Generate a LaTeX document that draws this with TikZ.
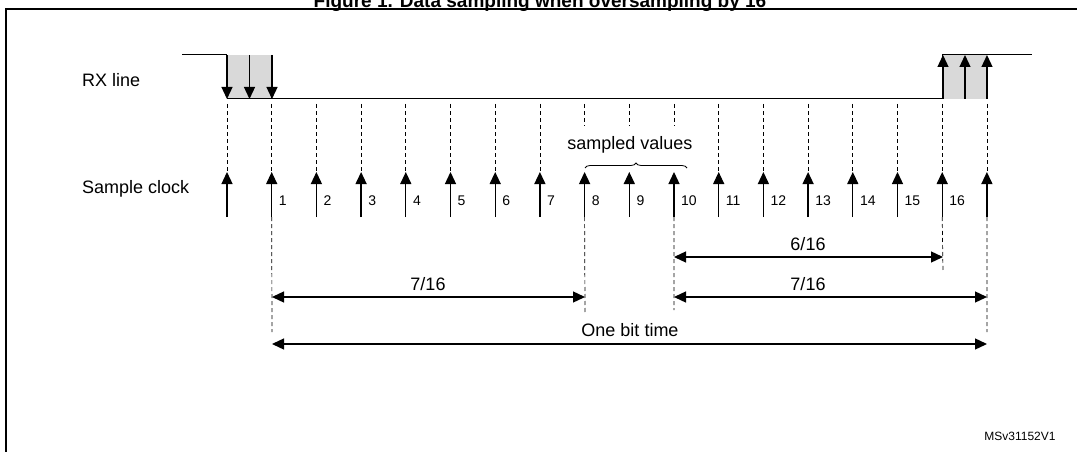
\documentclass[tikz,border=0pt]{standalone}
\usepackage{fontspec}
\setmainfont{Liberation Sans}
\usetikzlibrary{arrows.meta,decorations.pathreplacing}
\begin{document}
\begin{tikzpicture}[x=1pt,y=-1pt,
  lbl/.style={font=\fontsize{18}{20}\selectfont,inner sep=0pt},
  num/.style={font=\fontsize{14}{16}\selectfont,inner sep=0pt,anchor=west},
  clk/.style={line width=1.3pt,-{Triangle[length=12pt,width=11pt]}},
  dsh/.style={line width=0.7pt,dash pattern=on 4pt off 3pt},
  dim/.style={line width=1.3pt,{Triangle[length=12pt,width=11pt]}-{Triangle[length=12pt,width=11pt]}}]
\useasboundingbox (0,0) rectangle (1077,452);
\begin{scope}
\clip (0,0) rectangle (1077,452);
\node[font=\bfseries\fontsize{19}{21}\selectfont,inner sep=0pt] (title) at (540,3) {Figure 1. Data sampling when oversampling by 16};
\end{scope}
\draw[line width=1.5pt] (6,460) -- (6,9) -- (1080,9);
% grey areas
\fill[gray!30] (227,55) rectangle (272,99);
\fill[gray!30] (943,55) rectangle (987,99);
% clock coordinates
\foreach \k in {0,...,17}{
  \pgfmathsetmacro\xx{227+44.7*\k}
  \coordinate (t\k) at (\xx,99);
  \coordinate (u\k) at (\xx,104);
  \coordinate (v\k) at (\xx,126);
  \coordinate (c\k) at (\xx,172);
  \coordinate (b\k) at (\xx,217);
  \coordinate (m\k) at (\xx+7,201);
}
% rx line
\coordinate (rs) at (182,55);
\coordinate (re) at (1032,55);
\draw[line width=1pt] (rs) -- (t0 |- rs) (t0) -- (t16) -- (t16 |- rs) -- (re);
\draw[line width=1pt] (t1 |- rs) -- (t1);
\foreach \x in {227,249.5,272}{\coordinate (d) at (\x,55); \coordinate (e) at (\x,99); \draw[clk] (d) -- (e);}
\foreach \x in {943,965,987}{\coordinate (d) at (\x,99); \coordinate (e) at (\x,55); \draw[clk] (d) -- (e);}
% dashed verticals
\foreach \k in {0,...,7,11,12,13,14,15,16,17}{\draw[dsh] (u\k) -- (c\k);}
\foreach \k in {8,9,10}{\draw[dsh] (u\k) -- (v\k);}
% clock arrows
\foreach \k in {0,...,17}{\draw[clk] (b\k) -- (c\k);}
\foreach \k in {1,...,16}{\node[num] (n\k) at (m\k) {\k};}
% labels
\node[lbl,anchor=west] (rx) at (82,80) {RX line};
\node[lbl,anchor=west] (sc) at (82,189) {Sample clock};
\node[lbl] (sv) at (630,145) {sampled values};
\draw[line width=0.8pt,decorate,decoration={brace,amplitude=5pt}] (585,168) -- (687,168);
% lower dashed
\coordinate (l1) at (272,332); \draw[dsh] (b1) -- (l1);
\coordinate (l8) at (585,312); \draw[dsh] (b8) -- (l8);
\coordinate (l10) at (674,310); \draw[dsh] (b10) -- (l10);
\coordinate (l16) at (943,272); \draw[dsh] (b16) -- (l16);
\coordinate (l17) at (987,332); \draw[dsh] (b17) -- (l17);
% dimension arrows
\draw[dim] (674,257) -- (943,257);
\draw[dim] (272,297) -- (585,297);
\draw[dim] (674,297) -- (987,297);
\draw[dim] (272,344) -- (987,344);
\node[lbl] (a1) at (808,244) {6/16};
\node[lbl] (a2) at (428,284) {7/16};
\node[lbl] (a3) at (808,284) {7/16};
\node[lbl] (a4) at (630,330) {One bit time};
\node[font=\fontsize{12}{14}\selectfont,inner sep=0pt] (ms) at (1020,436) {MSv31152V1};
\end{tikzpicture}
\end{document}
